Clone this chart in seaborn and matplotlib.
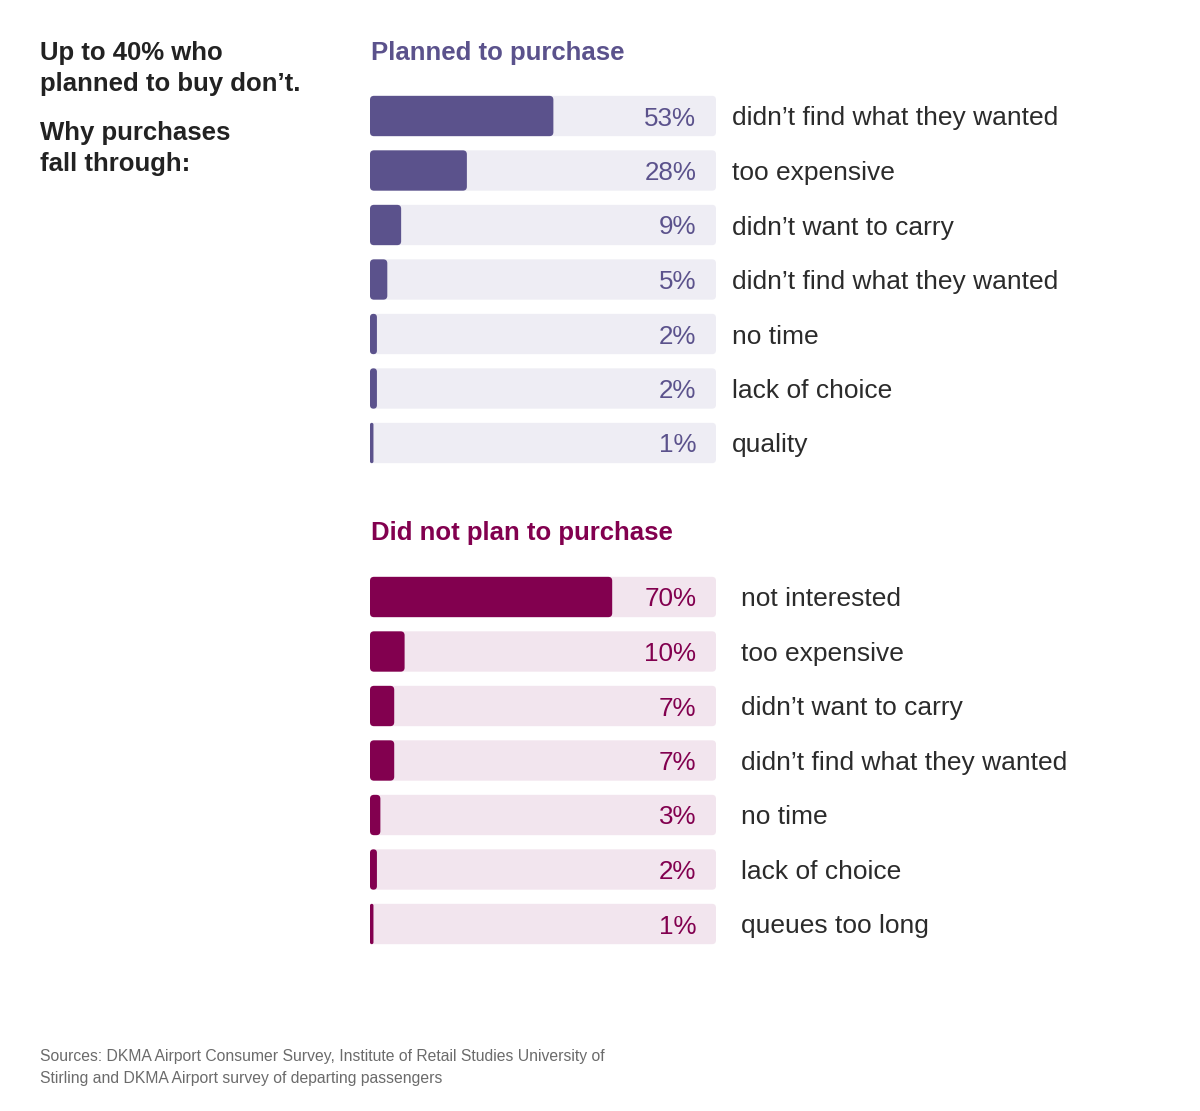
import numpy as np
import pandas as pd
import matplotlib
matplotlib.use("Agg")
import matplotlib.pyplot as plt
from matplotlib.patches import FancyBboxPatch
import seaborn as sns

# ---- data ----
planned_reasons = ["didn\u2019t find what they wanted", "too expensive", "didn\u2019t want to carry",
                   "didn\u2019t find what they wanted", "no time", "lack of choice", "quality"]
planned_pct = [53, 28, 9, 5, 2, 2, 1]

unplanned_reasons = ["not interested", "too expensive", "didn\u2019t want to carry",
                     "didn\u2019t find what they wanted", "no time", "lack of choice", "queues too long"]
unplanned_pct = [70, 10, 7, 7, 3, 2, 1]

heading_lines = ["Up to 40% who", "planned to buy don\u2019t.", "Why purchases", "fall through:"]
section_titles = ["Planned to purchase", "Did not plan to purchase"]
source_lines = ["Sources: DKMA Airport Consumer Survey, Institute of Retail Studies University of",
                "Stirling and DKMA Airport survey of departing passengers"]

PURPLE = "#5B528C"
PURPLE_BG = "#EEEDF4"
MAGENTA = "#82004F"
MAGENTA_BG = "#F2E5EE"
TEXT = "#2B2B2B"

sns.set_theme(style="white")
plt.rcParams["font.family"] = ["Liberation Sans", "DejaVu Sans"]

W, H = 1200, 1111
fig = plt.figure(figsize=(W / 100, H / 100), dpi=100)

def fx(px):
    return px / W

def fy(py):
    return 1 - py / H

def round_bars(ax, bars_px_w, row_px):
    xper = 100 / bars_px_w
    yper = 1 / row_px
    aspect = yper / xper
    new = []
    for p in list(ax.patches):
        x, y = p.get_x(), p.get_y()
        w, h = p.get_width(), p.get_height()
        if w <= 0:
            p.remove()
            continue
        r = min(4 * xper, w / 2)
        fb = FancyBboxPatch((x, y), w, h,
                            boxstyle=f"round,pad=0,rounding_size={r}",
                            mutation_aspect=aspect,
                            facecolor=p.get_facecolor(), edgecolor="none",
                            zorder=p.get_zorder())
        new.append(fb)
        p.remove()
    for fb in new:
        ax.add_patch(fb)

def draw_section(top_row_px, reasons, pcts, color, bg, label_px, title, title_px):
    row_px = 54.5
    n = len(pcts)
    top = top_row_px - row_px / 2
    bottom = top + row_px * n
    ax = fig.add_axes([fx(370), fy(bottom), fx(716) - fx(370), (bottom - top) / H])
    df = pd.DataFrame({"pos": np.arange(n), "pct": pcts, "full": [100] * n, "reason": reasons})
    sns.barplot(data=df, x="full", y="pos", orient="h", color=bg, saturation=1,
                width=0.74, ax=ax, zorder=1)
    sns.barplot(data=df, x="pct", y="pos", orient="h", color=color, saturation=1,
                width=0.74, ax=ax, zorder=2)
    ax.set_xlim(0, 100)
    ax.set_ylim(n - 0.5, -0.5)
    round_bars(ax, 346, row_px)
    ax.axis("off")
    lx = (label_px - 370) / 346 * 100
    dy = 2.5 / row_px
    for i, (r, v) in enumerate(zip(reasons, pcts)):
        ax.text(94.3, i + dy, f"{v}%", ha="right", va="center", fontsize=18.7,
                color=color, zorder=3)
        ax.text(lx, i + dy, r, ha="left", va="center", fontsize=19,
                color=TEXT, clip_on=False)
    fig.text(fx(371), fy(title_px + 2), title, ha="left", va="center", fontsize=18.5,
             color=color, fontweight="bold")
    return ax

draw_section(116, planned_reasons, planned_pct, PURPLE, PURPLE_BG, 732,
             section_titles[0], 51)
draw_section(597, unplanned_reasons, unplanned_pct, MAGENTA, MAGENTA_BG, 741,
             section_titles[1], 531)

for txt, py in zip(heading_lines, [51, 82, 131, 162]):
    fig.text(fx(40), fy(py + 2), txt, ha="left", va="center", fontsize=18.5,
             color="#222222", fontweight="bold")

for txt, py in zip(source_lines, [1055, 1077]):
    fig.text(fx(40), fy(py + 1), txt, ha="left", va="center", fontsize=11.3,
             color="#6b6b6b")

fig.savefig("out.png", dpi=100, facecolor="white")
